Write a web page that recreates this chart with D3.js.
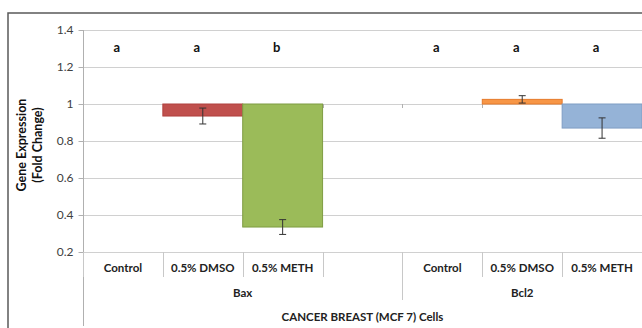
<!DOCTYPE html>
<html>
<head>
<meta charset="utf-8">
<script src="https://cdn.jsdelivr.net/npm/d3@7"></script>
<style>
  body { margin: 0; background: #fff; }
  svg { display: block; font-family: Lato, "Open Sans", sans-serif; }
</style>
</head>
<body>
<div id="chart"></div>
<script>
// categories along the x axis (4th Bax slot is empty)
var categories = ["Control", "0.5% DMSO", "0.5% METH", "", "Control", "0.5% DMSO", "0.5% METH"];
var genes = ["Bax", "Bax", "Bax", "Bax", "Bcl2", "Bcl2", "Bcl2"];
var geneGroups = ["Bax", "Bcl2"];
var values = [1.0, 0.935, 0.335, null, 1.0, 1.025, 0.87];
var errors = [0, 0.043, 0.04, null, 0, 0.02, 0.055];
var letters = ["a", "a", "b", "", "a", "a", "a"];
var barColors = ["#c0504d", "#c0504d", "#9bbb59", "#fff", "#f79646", "#f79646", "#95b3d7"];
var barEdges = ["#b0413e", "#b0413e", "#7f9c43", "#fff", "#e57a2a", "#e57a2a", "#7f9dc4"];
var yTicks = [0.2, 0.4, 0.6, 0.8, 1, 1.2, 1.4];
var cellLabel = "CANCER BREAST (MCF 7) Cells";

var width = 642, height = 328;
var plotLeft = 83, plotRight = 642, plotTop = 30, plotBottom = 252;

var svg = d3.select("#chart").append("svg")
    .attr("width", width)
    .attr("height", height);

var x = d3.scaleBand()
    .domain(d3.range(categories.length))
    .range([plotLeft, plotRight])
    .padding(0);

var y = d3.scaleLinear()
    .domain([0.2, 1.4])
    .range([plotBottom, plotTop]);

// outer frame
svg.append("rect")
    .attr("x", 8).attr("y", 13)
    .attr("width", 700).attr("height", 400)
    .attr("fill", "none")
    .attr("stroke", "#595959")
    .attr("stroke-width", 1.5);

// gridlines
svg.append("g").selectAll("line")
    .data(yTicks)
    .enter().append("line")
    .attr("x1", plotLeft).attr("x2", plotRight)
    .attr("y1", function(d) { return Math.round(y(d)) + 0.5; })
    .attr("y2", function(d) { return Math.round(y(d)) + 0.5; })
    .attr("stroke", "#d0d0d0")
    .attr("stroke-width", 1);

// y axis
var yAxis = svg.append("g")
    .attr("transform", "translate(" + (plotLeft + 0.5) + ",0)")
    .call(d3.axisLeft(y).tickValues(yTicks).tickSize(5).tickPadding(5)
        .tickFormat(function(d) { return d3.format("")(+d.toFixed(1)); }));
yAxis.select(".domain").remove();
yAxis.selectAll(".tick line").attr("stroke", "#b0b0b0");
yAxis.selectAll(".tick text")
    .attr("fill", "#404040")
    .style("font-size", "12px")
    .style("font-family", "Lato, sans-serif");

// left axis line runs down through the category rows
svg.append("line")
    .attr("x1", plotLeft + 0.5).attr("x2", plotLeft + 0.5)
    .attr("y1", plotTop).attr("y2", 326)
    .attr("stroke", "#b0b0b0");

// horizontal axis crosses at 1: small ticks at category boundaries
var bounds = d3.range(categories.length + 1).map(function(i) {
    return i < categories.length ? x(i) : plotRight;
});
svg.append("g").selectAll("line")
    .data(bounds)
    .enter().append("line")
    .attr("x1", function(d) { return Math.round(d) + 0.5; })
    .attr("x2", function(d) { return Math.round(d) + 0.5; })
    .attr("y1", y(1)).attr("y2", y(1) + 4)
    .attr("stroke", "#b0b0b0");

// bars hang from 1.0
var idx = d3.range(categories.length).filter(function(i) { return values[i] !== null; });
svg.append("g").selectAll("rect")
    .data(idx)
    .enter().append("rect")
    .attr("x", function(i) { return x(i); })
    .attr("width", x.bandwidth())
    .attr("y", function(i) { return y(Math.max(values[i], 1)); })
    .attr("height", function(i) { return Math.abs(y(values[i]) - y(1)); })
    .attr("fill", function(i) { return barColors[i]; })
    .attr("stroke", function(i) { return barEdges[i]; })
    .attr("stroke-width", function(i) { return values[i] === 1 ? 0 : 1; });

// error bars
var eb = svg.append("g").selectAll("g")
    .data(idx.filter(function(i) { return errors[i] > 0; }))
    .enter().append("g")
    .attr("stroke", "#333")
    .attr("stroke-width", 1);
eb.append("line")
    .attr("x1", function(i) { return x(i) + x.bandwidth() / 2; })
    .attr("x2", function(i) { return x(i) + x.bandwidth() / 2; })
    .attr("y1", function(i) { return y(values[i] + errors[i]); })
    .attr("y2", function(i) { return y(values[i] - errors[i]); });
[1, -1].forEach(function(s) {
    eb.append("line")
        .attr("x1", function(i) { return x(i) + x.bandwidth() / 2 - 3.5; })
        .attr("x2", function(i) { return x(i) + x.bandwidth() / 2 + 3.5; })
        .attr("y1", function(i) { return y(values[i] + s * errors[i]); })
        .attr("y2", function(i) { return y(values[i] + s * errors[i]); });
});

// significance letters
svg.append("g").selectAll("text")
    .data(idx)
    .enter().append("text")
    .attr("x", function(i) { return x(i) + x.bandwidth() / 2 - 6; })
    .attr("y", y(1.28))
    .attr("text-anchor", "middle")
    .attr("fill", "#111")
    .style("font-size", "13px")
    .style("font-weight", "bold")
    .text(function(i) { return letters[i]; });

// category axis: level 1 separators and labels
svg.append("g").selectAll("line")
    .data(bounds)
    .enter().append("line")
    .attr("x1", function(d) { return Math.round(d) + 0.5; })
    .attr("x2", function(d) { return Math.round(d) + 0.5; })
    .attr("y1", plotBottom).attr("y2", 277)
    .attr("stroke", "#c8c8c8");
svg.append("g").selectAll("text")
    .data(d3.range(categories.length))
    .enter().append("text")
    .attr("x", function(i) { return x(i) + x.bandwidth() / 2; })
    .attr("y", 272)
    .attr("text-anchor", "middle")
    .attr("fill", "#222")
    .style("font-size", "11.5px")
    .style("font-weight", "bold")
    .text(function(i) { return categories[i]; });

// level 2: gene groups
var groupSpan = geneGroups.map(function(g) {
    var members = d3.range(categories.length).filter(function(i) { return genes[i] === g; });
    return { name: g, x0: x(members[0]), x1: x(members[members.length - 1]) + x.bandwidth() };
});
svg.append("g").selectAll("line")
    .data(groupSpan.slice(1))
    .enter().append("line")
    .attr("x1", function(d) { return Math.round(d.x0) + 0.5; })
    .attr("x2", function(d) { return Math.round(d.x0) + 0.5; })
    .attr("y1", 277).attr("y2", 300)
    .attr("stroke", "#c8c8c8");
svg.append("g").selectAll("text")
    .data(groupSpan)
    .enter().append("text")
    .attr("x", function(d) { return (d.x0 + d.x1) / 2; })
    .attr("y", 297)
    .attr("text-anchor", "middle")
    .attr("fill", "#222")
    .style("font-size", "11.5px")
    .style("font-weight", "bold")
    .text(function(d) { return d.name; });

// level 3: cell line
svg.append("text")
    .attr("x", (plotLeft + plotRight) / 2)
    .attr("y", 321)
    .attr("text-anchor", "middle")
    .attr("fill", "#222")
    .style("font-size", "11.5px")
    .style("font-weight", "bold")
    .text(cellLabel);

// y axis title
var yt = svg.append("text")
    .attr("transform", "translate(26," + ((plotTop + plotBottom) / 2 + 4) + ") rotate(-90)")
    .attr("text-anchor", "middle")
    .attr("fill", "#111")
    .style("font-size", "12.5px")
    .style("font-weight", "bold");
yt.append("tspan").attr("x", 0).attr("dy", 0).text("Gene Expression");
yt.append("tspan").attr("x", 0).attr("dy", 16).text("(Fold Change)");
</script>
</body>
</html>
